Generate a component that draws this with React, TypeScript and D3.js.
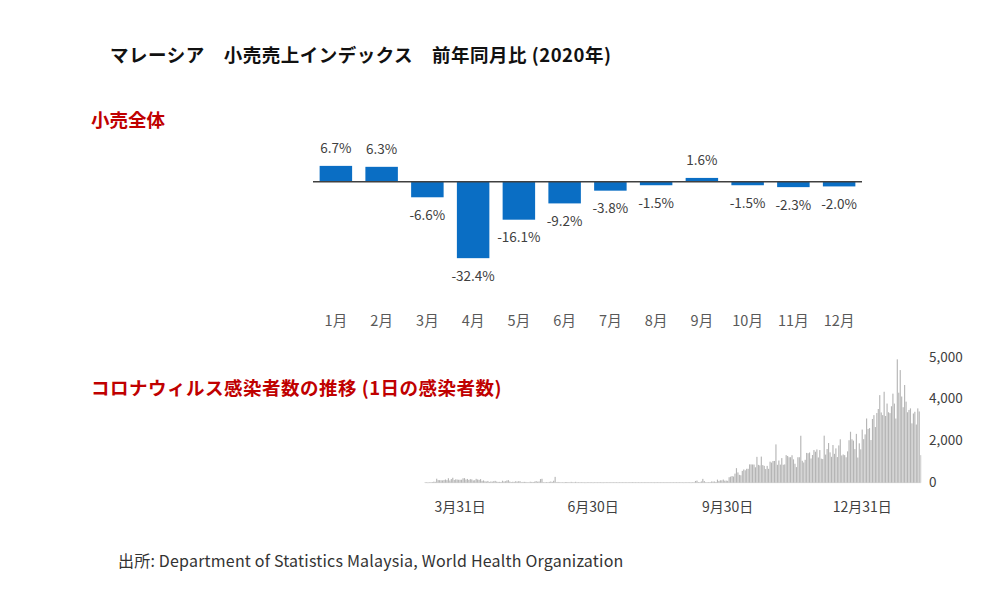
import React from 'react';
import * as d3 from 'd3';

// ---- Retail sales index, YoY (2020) ----
const months = ['1月', '2月', '3月', '4月', '5月', '6月', '7月', '8月', '9月', '10月', '11月', '12月'];
const retailYoY = [6.7, 6.3, -6.6, -32.4, -16.1, -9.2, -3.8, -1.5, 1.6, -1.5, -2.3, -2.0];

// ---- Daily new COVID-19 cases (from 2020-03-07) ----
const covidStart = '2020-03-07';
const cases2020Mar = [5, 6, 0, 18, 20, 29, 48, 41, 190, 125, 120, 117, 110, 130, 153, 123, 212, 106, 172, 235, 130, 159, 150, 140, 140];
const cases2020Apr = [142, 208, 217, 150, 179, 131, 170, 156, 109, 118, 184, 153, 134, 170, 85, 110, 69, 54, 84, 36, 57, 50, 71, 88, 51, 38, 40, 31, 94, 57];
const cases2020May = [69, 105, 122, 55, 30, 45, 39, 68, 54, 67, 70, 16, 37, 40, 36, 17, 22, 47, 37, 31, 50, 78, 48, 60, 172, 187, 15, 10, 30, 20, 38];
const cases2020Jun = [57, 38, 93, 277, 19, 37, 19, 7, 6, 2, 31, 33, 8, 10, 41, 8, 4, 41, 11, 22, 6, 7, 5, 2, 2, 5, 7, 4, 6, 1];
const cases2020Jul = [7, 7, 3, 5, 5, 2, 2, 10, 10, 7, 7, 6, 14, 7, 15, 13, 3, 13, 6, 15, 15, 13, 11, 12, 5, 7, 25, 8, 4, 5, 7];
const cases2020Aug = [3, 7, 5, 4, 10, 10, 5, 13, 11, 19, 2, 13, 8, 6, 4, 12, 7, 4, 19, 11, 16, 13, 10, 8, 5, 10, 17, 17, 8, 16, 2];
const cases2020Sep = [6, 8, 7, 4, 2, 9, 20, 82, 100, 26, 24, 62, 182, 78, 23, 17, 26, 25, 58, 52, 57, 33, 147, 82, 115, 111, 150, 95, 101, 89];
const cases2020Oct = [260, 287, 317, 293, 432, 691, 489, 374, 354, 561, 629, 589, 660, 660, 871, 869, 865, 862, 732, 1228, 847, 823, 1240, 835, 801, 649, 799, 659, 1000, 957, 1032];
const cases2020Nov = [1032, 1820, 850, 1054, 860, 1168, 852, 869, 1310, 1270, 1210, 1212, 1304, 1109, 900, 741, 1208, 1210, 2230, 1041, 960, 1088, 1415, 1400, 1435, 1150, 1315, 1550, 1472, 1580];
const cases2020Dec = [1200, 1550, 1141, 1123, 2234, 1335, 1600, 1884, 1441, 1229, 1790, 1371, 1630, 1218, 1772, 2062, 1295, 1340, 1310, 1208, 1489, 2018, 2420, 2062, 1999, 1596, 2320, 1196, 1870, 1585, 2525];
const cases2021Jan = [2068, 2295, 3050, 2553, 2593, 2027, 3027, 3210, 2643, 3309, 3500, 4160, 3337, 3211, 4320, 3170, 3760, 3346, 3306, 3631, 4230, 3758, 3048, 5860, 4275, 5350, 4094, 3585, 4640, 3850, 3346];
const cases2021Feb = [3455, 3530, 2820, 3288, 3370, 2764, 3530, 3384, 1310];

const covidTickDates = ['2020-03-31', '2020-06-30', '2020-09-30', '2020-12-31'];
const covidTickLabels = ['3月31日', '6月30日', '9月30日', '12月31日'];
const caseTickValues = [0, 2000, 4000, 5950];
const caseTickLabels = ['0', '2,000', '4,000', '5,000'];

const FONT = "'Noto Sans CJK JP', 'Noto Sans', sans-serif";

export default function App() {
  const W = 1000, H = 604;

  // retail bar chart scales
  const x = d3.scaleBand<string>().domain(months).range([313, 862]).paddingInner(0.29).paddingOuter(0.145);
  const pxPerPct = 2.36;
  const zeroY = 181.7;
  const y = d3.scaleLinear().domain([-35, 10]).range([zeroY + 35 * pxPerPct, zeroY - 10 * pxPerPct]);

  // covid data
  const allCases = [
    ...cases2020Mar, ...cases2020Apr, ...cases2020May, ...cases2020Jun, ...cases2020Jul, ...cases2020Aug,
    ...cases2020Sep, ...cases2020Oct, ...cases2020Nov, ...cases2020Dec, ...cases2021Jan, ...cases2021Feb,
  ];
  const start = d3.utcParse('%Y-%m-%d')(covidStart) as Date;
  const covid = allCases.map((v, i) => ({ date: d3.utcDay.offset(start, i), value: v }));
  const last = covid[covid.length - 1].date;
  const cx = d3.scaleUtc().domain([start, last]).range([425, 920.7]);
  const cy = d3.scaleLinear().domain([0, 6000]).range([482.7, 482.7 - 6000 / 47.5]);
  const step = (920.7 - 425) / (covid.length - 1);
  const bw = step * 0.78;

  const fmtPct = (v: number) => `${v.toFixed(1)}%`;

  return (
    <svg width={W} height={H} style={{ position: 'absolute', left: 0, top: 0, background: '#fff' }} fontFamily={FONT}>
      <rect x={0} y={0} width={W} height={H} fill="#fff" />
      {/* Title */}
      <text x={110} y={62} fontSize={18.5} fontWeight="bold" fill="#111" letterSpacing={0.5}>
        マレーシア　小売売上インデックス　前年同月比 (2020年)
      </text>

      {/* Section 1 */}
      <text x={91} y={127} fontSize={18.5} fontWeight="bold" fill="#c00000">小売全体</text>

      {retailYoY.map((v, i) => {
        const m = months[i];
        const x0 = x(m) as number;
        const yTop = y(Math.max(0, v));
        const yBot = y(Math.min(0, v));
        return (
          <g key={m}>
            <rect x={x0} y={yTop} width={x.bandwidth()} height={yBot - yTop} fill="#0a6ec4" />
            <text
              x={x0 + x.bandwidth() / 2}
              y={v >= 0 ? yTop - 18 : yBot + 18}
              dy="0.35em"
              textAnchor="middle"
              fontSize={13.5}
              fill="#404040"
            >
              {fmtPct(v)}
            </text>
            <text x={x0 + x.bandwidth() / 2} y={321} dy="0.35em" textAnchor="middle" fontSize={14.5} fill="#595959">
              {m}
            </text>
          </g>
        );
      })}
      <line x1={313} x2={862} y1={y(0)} y2={y(0)} stroke="#404040" strokeWidth={1.6} />

      {/* Section 2 */}
      <text x={91} y={395} fontSize={18.5} fontWeight="bold" fill="#c00000" letterSpacing={0.5}>
        コロナウィルス感染者数の推移 (1日の感染者数)
      </text>

      <line x1={425} x2={921} y1={cy(0)} y2={cy(0)} stroke="#e2e2e2" strokeWidth={1} />
      {covid.map((d, i) => {
        const h = cy(0) - cy(d.value);
        return (
          <rect
            key={i}
            x={cx(d.date) - bw / 2}
            y={cy(d.value)}
            width={bw}
            height={Math.max(h, 0.4)}
            fill={i === covid.length - 1 ? '#cfcfcf' : '#b5b5b5'}
          />
        );
      })}
      {caseTickValues.map((v, i) => (
        <text key={v} x={929} y={cy(v)} dy="0.35em" fontSize={13.5} fill="#404040">
          {caseTickLabels[i]}
        </text>
      ))}
      {covidTickDates.map((s, i) => (
        <text
          key={s}
          x={cx(d3.utcParse('%Y-%m-%d')(s) as Date)}
          y={507}
          dy="0.35em"
          textAnchor="middle"
          fontSize={14}
          fill="#404040"
        >
          {covidTickLabels[i]}
        </text>
      ))}

      {/* Source */}
      <text x={118} y={567} fontSize={16} fill="#333" letterSpacing={0.2}>
        出所: Department of Statistics Malaysia, World Health Organization
      </text>
    </svg>
  );
}
